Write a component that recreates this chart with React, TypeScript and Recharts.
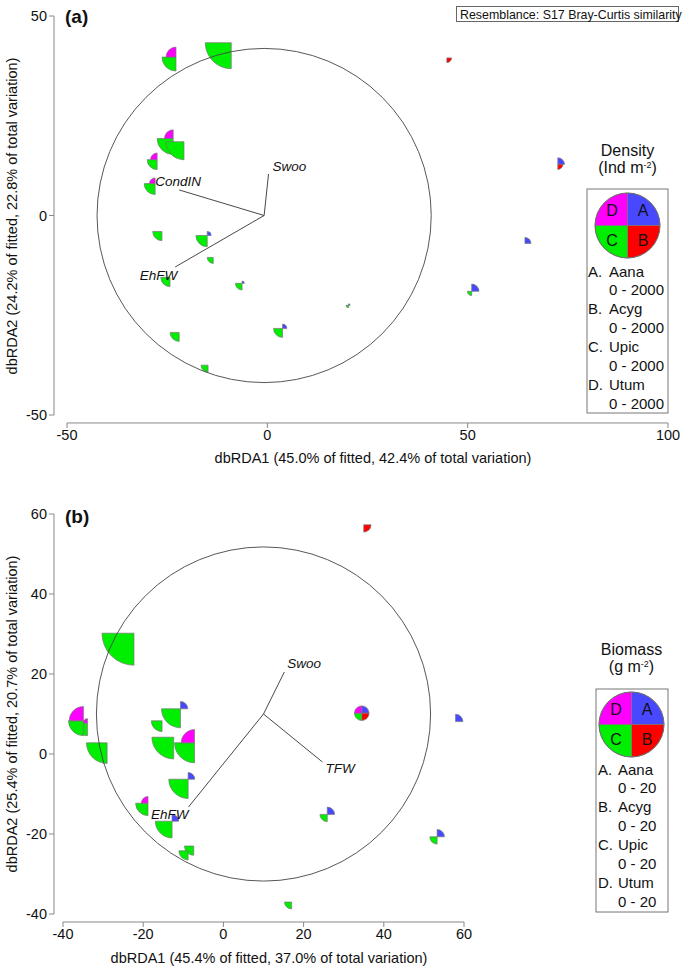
import React from "react"
import {
  ScatterChart,
  Scatter,
  XAxis,
  YAxis,
  ReferenceLine,
  ReferenceDot,
  Customized,
} from "recharts"

// ---- panel (a): density, Ind m-2 (key range 0 - 2000) ----
const siteXA = [-22.8, -9, -23.5, -20.8, -27.5, -28, -26.3, -15, -13.5, -24.3, -6.3, 3.8, -22, -14.8, 44.8, 72.5, 64.3, 51, 20.3]
const siteYA = [39.7, 43.3, 19.3, 18.5, 14, 8, -4, -5, -10.5, -15.5, -17, -28.3, -29.3, -37.5, 39.5, 12.8, -7, -19, -22.5]
const aanaA = [0, 0, 0, 0, 0, 0, 0, 245, 0, 0, 140, 265, 0, 0, 0, 410, 370, 450, 90]
const acygA = [0, 0, 0, 0, 0, 0, 0, 0, 0, 0, 0, 0, 0, 0, 290, 310, 0, 0, 0]
const upicA = [860, 1600, 985, 1110, 615, 675, 570, 695, 370, 570, 410, 555, 555, 430, 0, 0, 0, 265, 155]
const utumA = [615, 0, 535, 0, 410, 350, 0, 0, 0, 0, 0, 0, 0, 0, 0, 0, 0, 0, 0]
const vecNamesA = ["Swoo", "CondIN", "EhFW"]
const vecXA = [0.3, -22, -23]
const vecYA = [10.4, 6.4, -12.9]
const originA = { x: -0.8, y: 0 }
const circleRA = 41.7
const ticksXA = [-50, 0, 50, 100]
const ticksYA = [-50, 0, 50]

// ---- panel (b): biomass, g m-2 (key range 0 - 20) ----
const siteXB = [-22.3, -33.9, -34.9, -10.7, 35, 34.5, 57.9, -29, -15.3, -12.4, -7.2, -8.8, -18.8, -12.8, -7.4, -8.8, 17, 25.9, 53.3]
const siteYB = [30.2, 7.7, 8.3, 11.3, 57.3, 10.2, 8.1, 2.8, 8.3, 4.2, 2.8, -6.3, -12.3, -16.8, -23, -24.2, -37, -15.1, -20.7]
const aanaB = [0, 0, 0, 4.5, 0, 4.5, 4.5, 0, 0, 0, 0, 4.1, 0, 4.1, 0, 0, 0, 4.5, 4.5]
const acygB = [0, 0, 0, 0, 4.5, 4.5, 0, 0, 0, 0, 0, 0, 0, 0, 0, 0, 0, 0, 0]
const upicB = [19.7, 7.7, 9.2, 11.7, 0, 4.5, 0, 12.7, 6.6, 13.4, 12.3, 11.9, 7.6, 10.3, 5.7, 5.7, 4.3, 4.5, 4.5]
const utumB = [0, 2.8, 8.8, 0, 0, 4.5, 0, 0, 0, 0, 8.2, 0, 4.1, 0, 0, 0, 0, 0, 0]
const vecNamesB = ["Swoo", "TFW", "EhFW"]
const vecXB = [15.2, 24.7, -8.7]
const vecYB = [20.5, -2, -13.25]
const originB = { x: 10, y: 10 }
const circleRB = 41.7
const ticksXB = [-40, -20, 0, 20, 40, 60]
const ticksYB = [-40, -20, 0, 20, 40, 60]

const species = ["Aana", "Acyg", "Upic", "Utum"]
const letters = ["A", "B", "C", "D"]

const COLORS = ["#4848ff", "#ff0000", "#00ee00", "#ff00ff"]
const FONT = "'Liberation Sans', Arial, Helvetica, sans-serif"
const KEY_R = 32.5
const PX = 4.007 // pixels per unit, both panels

const toRows = (xs, ys, a, b, c, d) =>
  xs.map((x, i) => ({ x, y: ys[i], v: [a[i], b[i], c[i], d[i]] }))
const toVecs = (names, xs, ys, o) =>
  names.map((name, i) => ({ name, x: xs[i], y: ys[i], ox: o.x, oy: o.y }))

const rowsA = toRows(siteXA, siteYA, aanaA, acygA, upicA, utumA)
const rowsB = toRows(siteXB, siteYB, aanaB, acygB, upicB, utumB)
const vecsA = toVecs(vecNamesA, vecXA, vecYA, originA)
const vecsB = toVecs(vecNamesB, vecXB, vecYB, originB)

// label offsets in px from the arrow tip
const labelPosA = [
  { dx: 4, dy: -3, anchor: "start" },
  { dx: -1, dy: -4, anchor: "middle" },
  { dx: 2, dy: 13, anchor: "end" },
]
const labelPosB = [
  { dx: 3, dy: -4, anchor: "start" },
  { dx: 3, dy: 11, anchor: "start" },
  { dx: 0, dy: 12, anchor: "end" },
]

function wedges(cx, cy, radii) {
  // A top-right, B bottom-right, C bottom-left, D top-left
  const dirs = [
    [0, -1, 1, 0],
    [1, 0, 0, 1],
    [0, 1, -1, 0],
    [-1, 0, 0, -1],
  ]
  return radii.map((r, i) => {
    if (!r || r <= 0) return null
    const [x1, y1, x2, y2] = dirs[i]
    const d = `M${cx},${cy} L${cx + x1 * r},${cy + y1 * r} A${r},${r} 0 0 1 ${cx + x2 * r},${cy + y2 * r} Z`
    return <path key={i} d={d} fill={COLORS[i]} stroke="#777" strokeWidth={0.7} />
  })
}

const makeGlyph = (max) => (props) => {
  const { cx, cy, payload } = props
  if (cx == null || cy == null) return null
  const radii = payload.v.map((v) => (v / max) * KEY_R)
  return <g>{wedges(cx, cy, radii)}</g>
}

function SpeciesKey({ cx, cy, title, unit, range, boxX, boxY, boxW, boxH, letterX, nameX, firstY, titleY }) {
  const lines = []
  species.forEach((s, i) => {
    lines.push(
      <text key={"n" + i} y={firstY + i * 37.8} fontSize={15} fill="#111">
        <tspan x={letterX}>{letters[i]}.</tspan>
        <tspan x={nameX}>{s}</tspan>
      </text>
    )
    lines.push(
      <text key={"r" + i} x={nameX} y={firstY + 18.9 + i * 37.8} fontSize={15} fill="#111">
        {range}
      </text>
    )
  })
  return (
    <g fontFamily={FONT}>
      <text x={cx} y={titleY} textAnchor="middle" fontSize={16} fill="#111">{title}</text>
      <text x={cx} y={titleY + 17} textAnchor="middle" fontSize={16} fill="#111">
        ({unit} m<tspan dy={-5} fontSize={9}>-2</tspan>
        <tspan dy={5}>)</tspan>
      </text>
      <rect x={boxX} y={boxY} width={boxW} height={boxH} fill="none" stroke="#777" strokeWidth={1} />
      {wedges(cx, cy, [KEY_R, KEY_R, KEY_R, KEY_R])}
      <circle cx={cx} cy={cy} r={KEY_R} fill="none" stroke="#666" strokeWidth={0.8} />
      {letters.map((l, i) => {
        const sx = i === 0 || i === 1 ? 1 : -1
        const sy = i === 0 || i === 3 ? -1 : 1
        return (
          <text key={l} x={cx + sx * 15.5} y={cy + sy * 15 + 5.5} textAnchor="middle" fontSize={16} fill="#111">
            {l}
          </text>
        )
      })}
      {lines}
    </g>
  )
}

function OverlayA() {
  return (
    <g fontFamily={FONT} fill="#111">
      <text x={65} y={23} fontSize={19} fontWeight="bold">(a)</text>
      <rect x={456.5} y={6.5} width={222} height={15} fill="#fff" stroke="#666" />
      <text x={460} y={18.5} fontSize={12.4}>Resemblance: S17 Bray-Curtis similarity</text>
      <text x={373} y={463} textAnchor="middle" fontSize={14.5}>
        dbRDA1 (45.0% of fitted, 42.4% of total variation)
      </text>
      <text transform="translate(16.5,216) rotate(-90)" textAnchor="middle" fontSize={14.5}>
        dbRDA2 (24.2% of fitted, 22.8% of total variation)
      </text>
      <SpeciesKey
        cx={627.5} cy={225.5} title="Density" unit="Ind" range="0 - 2000"
        boxX={587} boxY={189} boxW={81} boxH={224}
        letterX={588} nameX={609} firstY={276.5} titleY={156}
      />
    </g>
  )
}

function OverlayB() {
  return (
    <g fontFamily={FONT} fill="#111">
      <text x={65} y={38} fontSize={19} fontWeight="bold">(b)</text>
      <text x={269} y={478} textAnchor="middle" fontSize={14.5}>
        dbRDA1 (45.4% of fitted, 37.0% of total variation)
      </text>
      <text transform="translate(16.5,229) rotate(-90)" textAnchor="middle" fontSize={14.5}>
        dbRDA2 (25.4% of fitted, 20.7% of total variation)
      </text>
      <SpeciesKey
        cx={631.5} cy={239.5} title="Biomass" unit="g" range="0 - 20"
        boxX={596} boxY={204} boxW={72} boxH={223}
        letterX={598} nameX={618} firstY={289.5} titleY={170}
      />
    </g>
  )
}

const axisTick = { fill: "#111", fontSize: 14.5, fontFamily: FONT }
const tickLine = { stroke: "#888" }

function Panel({ rows, vecs, labelPos, origin, circleR, max, xDomain, yDomain, ticksX, ticksY, margin, padLeft, overlay }) {
  const xLine = yDomain[0] - 8 / PX
  const yLine = xDomain[0] - padLeft / PX
  return (
    <ScatterChart width={685} height={485} margin={margin}>
      <XAxis
        type="number" dataKey="x" domain={xDomain} ticks={ticksX} interval={0}
        allowDataOverflow padding={{ left: padLeft, right: 0 }} height={45}
        axisLine={false} tickLine={tickLine} tickSize={5} tick={axisTick}
      />
      <YAxis
        type="number" dataKey="y" domain={yDomain} ticks={ticksY} interval={0}
        allowDataOverflow padding={{ top: 0, bottom: 8 }} width={54}
        axisLine={false} tickLine={tickLine} tickSize={5} tick={axisTick}
      />
      <Scatter data={rows} shape={makeGlyph(max)} isAnimationActive={false} />
      <ReferenceLine
        segment={[{ x: xDomain[0], y: xLine }, { x: xDomain[1], y: xLine }]}
        stroke="#888" ifOverflow="visible"
      />
      <ReferenceLine
        segment={[{ x: yLine, y: yDomain[0] }, { x: yLine, y: yDomain[1] }]}
        stroke="#888" ifOverflow="visible"
      />
      <ReferenceDot
        x={origin.x} y={origin.y} r={circleR * PX} ifOverflow="visible"
        shape={(p) => <circle cx={p.cx} cy={p.cy} r={circleR * PX} fill="none" stroke="#444" strokeWidth={0.9} />}
      />
      {vecs.map((v) => (
        <ReferenceLine
          key={v.name}
          segment={[{ x: v.ox, y: v.oy }, { x: v.x, y: v.y }]}
          stroke="#333" strokeWidth={0.9} ifOverflow="visible"
        />
      ))}
      {vecs.map((v, i) => (
        <ReferenceDot
          key={"l" + v.name}
          x={v.x} y={v.y} r={1} ifOverflow="visible"
          shape={(p) => (
            <text
              x={p.cx + labelPos[i].dx} y={p.cy + labelPos[i].dy}
              textAnchor={labelPos[i].anchor} fontSize={13.5} fontStyle="italic"
              fontFamily={FONT} fill="#111"
            >
              {v.name}
            </text>
          )}
        />
      ))}
      <Customized component={overlay} />
    </ScatterChart>
  )
}

export default function App() {
  return (
    <div style={{ position: "absolute", left: 0, top: 0, width: 685, height: 970, background: "#fff", fontFamily: FONT }}>
      <div style={{ position: "absolute", left: 0, top: 0 }}>
        <Panel
          rows={rowsA} vecs={vecsA} labelPos={labelPosA} origin={originA} circleR={circleRA}
          max={2000} xDomain={[-50, 100]} yDomain={[-50, 50]} ticksX={ticksXA} ticksY={ticksYA}
          margin={{ top: 16, right: 17, bottom: 17, left: 0 }} padLeft={13} overlay={<OverlayA />}
        />
      </div>
      <div style={{ position: "absolute", left: 0, top: 485 }}>
        <Panel
          rows={rowsB} vecs={vecsB} labelPos={labelPosB} origin={originB} circleR={circleRB}
          max={20} xDomain={[-40, 60]} yDomain={[-40, 60]} ticksX={ticksXB} ticksY={ticksYB}
          margin={{ top: 29, right: 221, bottom: 3, left: 0 }} padLeft={9} overlay={<OverlayB />}
        />
      </div>
    </div>
  )
}
